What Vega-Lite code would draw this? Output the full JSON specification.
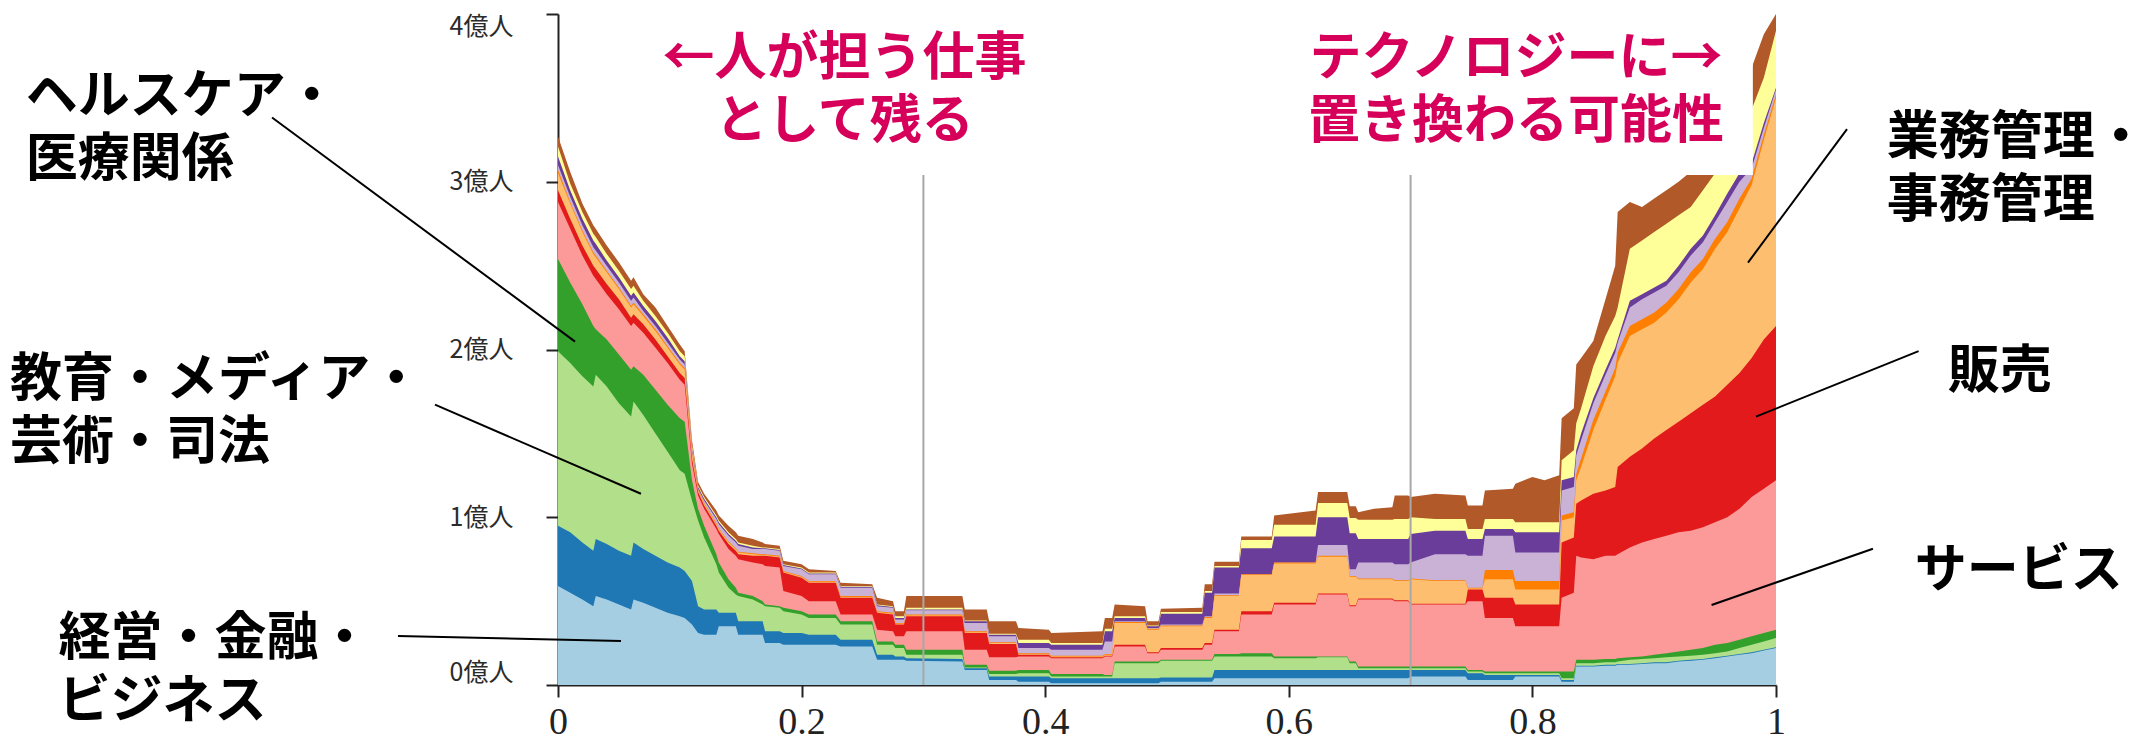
{
"$schema":"https://vega.github.io/schema/vega-lite/v6.json",
"width":1218,"height":671,
"autosize":"none",
"padding":{"left":558,"top":14,"right":379,"bottom":68},
"background":"white",
"config":{"view":{"stroke":null},"axis":{"grid":false,"zindex":1}},
"datasets":{
"emp":[
{"x":0,"a":0.59,"b":0.95,"c":1.99,"d":2.54,"e":2.88,"f":2.95,"g":3.05,"h":3.07,"i":3.10,"j":3.15,"k":3.21,"l":3.27},
{"x":0.01,"a":0.55,"b":0.91,"c":1.92,"d":2.40,"e":2.72,"f":2.78,"g":2.87,"h":2.88,"i":2.91,"j":2.95,"k":2.99,"l":3.06},
{"x":0.02,"a":0.51,"b":0.85,"c":1.84,"d":2.27,"e":2.56,"f":2.62,"g":2.70,"h":2.71,"i":2.74,"j":2.78,"k":2.82,"l":2.87},
{"x":0.029,"a":0.47,"b":0.80,"c":1.78,"d":2.14,"e":2.44,"f":2.50,"g":2.57,"h":2.58,"i":2.61,"j":2.65,"k":2.69,"l":2.74},
{"x":0.031,"a":0.53,"b":0.87,"c":1.85,"d":2.12,"e":2.42,"f":2.48,"g":2.55,"h":2.56,"i":2.59,"j":2.63,"k":2.67,"l":2.72},
{"x":0.04,"a":0.51,"b":0.84,"c":1.78,"d":2.06,"e":2.33,"f":2.39,"g":2.46,"h":2.47,"i":2.50,"j":2.53,"k":2.57,"l":2.62},
{"x":0.05,"a":0.48,"b":0.80,"c":1.68,"d":1.97,"e":2.24,"f":2.30,"g":2.36,"h":2.37,"i":2.40,"j":2.43,"k":2.47,"l":2.52},
{"x":0.06,"a":0.45,"b":0.77,"c":1.60,"d":1.88,"e":2.14,"f":2.19,"g":2.25,"h":2.26,"i":2.29,"j":2.32,"k":2.36,"l":2.41},
{"x":0.062,"a":0.51,"b":0.85,"c":1.69,"d":1.90,"e":2.16,"f":2.21,"g":2.27,"h":2.28,"i":2.31,"j":2.34,"k":2.38,"l":2.43},
{"x":0.07,"a":0.49,"b":0.81,"c":1.61,"d":1.85,"e":2.10,"f":2.15,"g":2.20,"h":2.21,"i":2.23,"j":2.26,"k":2.29,"l":2.33},
{"x":0.08,"a":0.46,"b":0.77,"c":1.50,"d":1.76,"e":2.01,"f":2.06,"g":2.11,"h":2.12,"i":2.14,"j":2.17,"k":2.20,"l":2.25},
{"x":0.09,"a":0.43,"b":0.73,"c":1.39,"d":1.67,"e":1.92,"f":1.96,"g":2.01,"h":2.02,"i":2.04,"j":2.07,"k":2.10,"l":2.14},
{"x":0.10,"a":0.41,"b":0.70,"c":1.28,"d":1.59,"e":1.82,"f":1.86,"g":1.91,"h":1.92,"i":1.94,"j":1.96,"k":1.99,"l":2.03},
{"x":0.104,"a":0.40,"b":0.68,"c":1.26,"d":1.57,"e":1.79,"f":1.83,"g":1.88,"h":1.89,"i":1.91,"j":1.93,"k":1.96,"l":1.99},
{"x":0.11,"a":0.36,"b":0.62,"c":1.10,"d":1.22,"e":1.32,"f":1.35,"g":1.38,"h":1.39,"i":1.40,"j":1.41,"k":1.43,"l":1.46},
{"x":0.115,"a":0.31,"b":0.47,"c":0.98,"d":1.05,"e":1.13,"f":1.15,"g":1.16,"h":1.165,"i":1.17,"j":1.18,"k":1.19,"l":1.21},
{"x":0.12,"a":0.30,"b":0.45,"c":0.88,"d":0.95,"e":1.05,"f":1.07,"g":1.08,"h":1.085,"i":1.10,"j":1.11,"k":1.12,"l":1.14},
{"x":0.13,"a":0.30,"b":0.45,"c":0.72,"d":0.78,"e":0.93,"f":0.95,"g":0.96,"h":0.965,"i":0.99,"j":1.00,"k":1.01,"l":1.04},
{"x":0.132,"a":0.35,"b":0.43,"c":0.67,"d":0.73,"e":0.90,"f":0.92,"g":0.93,"h":0.935,"i":0.96,"j":0.97,"k":0.98,"l":1.01},
{"x":0.14,"a":0.35,"b":0.43,"c":0.58,"d":0.63,"e":0.81,"f":0.84,"g":0.85,"h":0.855,"i":0.89,"j":0.90,"k":0.91,"l":0.95},
{"x":0.146,"a":0.35,"b":0.43,"c":0.54,"d":0.58,"e":0.77,"f":0.80,"g":0.81,"h":0.815,"i":0.85,"j":0.86,"k":0.87,"l":0.91},
{"x":0.148,"a":0.30,"b":0.38,"c":0.53,"d":0.55,"e":0.75,"f":0.78,"g":0.79,"h":0.795,"i":0.83,"j":0.84,"k":0.85,"l":0.89},
{"x":0.16,"a":0.30,"b":0.38,"c":0.51,"d":0.53,"e":0.73,"f":0.77,"g":0.78,"h":0.785,"i":0.81,"j":0.82,"k":0.83,"l":0.87},
{"x":0.168,"a":0.30,"b":0.38,"c":0.48,"d":0.50,"e":0.72,"f":0.77,"g":0.775,"h":0.78,"i":0.81,"j":0.815,"k":0.82,"l":0.85},
{"x":0.17,"a":0.25,"b":0.32,"c":0.47,"d":0.48,"e":0.71,"f":0.77,"g":0.775,"h":0.78,"i":0.81,"j":0.815,"k":0.82,"l":0.84},
{"x":0.182,"a":0.25,"b":0.32,"c":0.46,"d":0.47,"e":0.70,"f":0.76,"g":0.765,"h":0.77,"i":0.80,"j":0.805,"k":0.81,"l":0.83},
{"x":0.185,"a":0.24,"b":0.31,"c":0.44,"d":0.46,"e":0.56,"f":0.67,"g":0.675,"h":0.68,"i":0.71,"j":0.715,"k":0.72,"l":0.74},
{"x":0.20,"a":0.24,"b":0.31,"c":0.42,"d":0.44,"e":0.53,"f":0.64,"g":0.645,"h":0.65,"i":0.69,"j":0.695,"k":0.70,"l":0.72},
{"x":0.206,"a":0.24,"b":0.30,"c":0.40,"d":0.42,"e":0.50,"f":0.61,"g":0.615,"h":0.62,"i":0.66,"j":0.665,"k":0.67,"l":0.69},
{"x":0.228,"a":0.24,"b":0.30,"c":0.40,"d":0.42,"e":0.50,"f":0.61,"g":0.615,"h":0.62,"i":0.66,"j":0.665,"k":0.67,"l":0.68},
{"x":0.232,"a":0.23,"b":0.27,"c":0.36,"d":0.38,"e":0.42,"f":0.52,"g":0.525,"h":0.53,"i":0.58,"j":0.585,"k":0.59,"l":0.61},
{"x":0.258,"a":0.23,"b":0.27,"c":0.36,"d":0.38,"e":0.42,"f":0.52,"g":0.525,"h":0.53,"i":0.58,"j":0.585,"k":0.59,"l":0.60},
{"x":0.262,"a":0.15,"b":0.18,"c":0.24,"d":0.26,"e":0.33,"f":0.43,"g":0.435,"h":0.44,"i":0.47,"j":0.475,"k":0.48,"l":0.52},
{"x":0.275,"a":0.15,"b":0.18,"c":0.24,"d":0.26,"e":0.32,"f":0.42,"g":0.425,"h":0.43,"i":0.46,"j":0.465,"k":0.47,"l":0.50},
{"x":0.277,"a":0.15,"b":0.17,"c":0.22,"d":0.24,"e":0.29,"f":0.36,"g":0.365,"h":0.37,"i":0.39,"j":0.40,"k":0.41,"l":0.44},
{"x":0.284,"a":0.15,"b":0.17,"c":0.22,"d":0.24,"e":0.29,"f":0.36,"g":0.365,"h":0.37,"i":0.39,"j":0.40,"k":0.41,"l":0.44},
{"x":0.286,"a":0.145,"b":0.16,"c":0.18,"d":0.21,"e":0.32,"f":0.41,"g":0.415,"h":0.42,"i":0.445,"j":0.45,"k":0.46,"l":0.53},
{"x":0.332,"a":0.14,"b":0.155,"c":0.18,"d":0.21,"e":0.32,"f":0.41,"g":0.415,"h":0.42,"i":0.445,"j":0.45,"k":0.46,"l":0.53},
{"x":0.334,"a":0.09,"b":0.10,"c":0.105,"d":0.12,"e":0.21,"f":0.31,"g":0.315,"h":0.32,"i":0.37,"j":0.38,"k":0.385,"l":0.45},
{"x":0.352,"a":0.09,"b":0.10,"c":0.105,"d":0.12,"e":0.21,"f":0.31,"g":0.315,"h":0.32,"i":0.37,"j":0.38,"k":0.385,"l":0.45},
{"x":0.354,"a":0.03,"b":0.05,"c":0.065,"d":0.085,"e":0.165,"f":0.245,"g":0.25,"h":0.255,"i":0.29,"j":0.30,"k":0.305,"l":0.38},
{"x":0.376,"a":0.03,"b":0.05,"c":0.065,"d":0.085,"e":0.165,"f":0.245,"g":0.25,"h":0.255,"i":0.29,"j":0.30,"k":0.305,"l":0.38},
{"x":0.378,"a":0.02,"b":0.05,"c":0.07,"d":0.09,"e":0.17,"f":0.18,"g":0.185,"h":0.19,"i":0.22,"j":0.25,"k":0.27,"l":0.34},
{"x":0.403,"a":0.02,"b":0.05,"c":0.07,"d":0.09,"e":0.17,"f":0.18,"g":0.185,"h":0.19,"i":0.22,"j":0.25,"k":0.27,"l":0.33},
{"x":0.405,"a":0.01,"b":0.04,"c":0.05,"d":0.065,"e":0.16,"f":0.165,"g":0.17,"h":0.175,"i":0.21,"j":0.24,"k":0.25,"l":0.31},
{"x":0.447,"a":0.01,"b":0.04,"c":0.05,"d":0.065,"e":0.16,"f":0.165,"g":0.17,"h":0.175,"i":0.21,"j":0.24,"k":0.25,"l":0.32},
{"x":0.449,"a":0.01,"b":0.04,"c":0.05,"d":0.06,"e":0.17,"f":0.175,"g":0.18,"h":0.185,"i":0.26,"j":0.32,"k":0.335,"l":0.40},
{"x":0.455,"a":0.01,"b":0.04,"c":0.05,"d":0.06,"e":0.17,"f":0.175,"g":0.18,"h":0.185,"i":0.26,"j":0.32,"k":0.335,"l":0.40},
{"x":0.457,"a":0.01,"b":0.04,"c":0.13,"d":0.14,"e":0.23,"f":0.24,"g":0.37,"h":0.375,"i":0.38,"j":0.40,"k":0.41,"l":0.48},
{"x":0.482,"a":0.01,"b":0.04,"c":0.13,"d":0.14,"e":0.23,"f":0.24,"g":0.37,"h":0.375,"i":0.38,"j":0.40,"k":0.41,"l":0.47},
{"x":0.484,"a":0.01,"b":0.04,"c":0.13,"d":0.14,"e":0.19,"f":0.195,"g":0.33,"h":0.335,"i":0.34,"j":0.35,"k":0.355,"l":0.38},
{"x":0.493,"a":0.01,"b":0.04,"c":0.13,"d":0.14,"e":0.19,"f":0.195,"g":0.33,"h":0.335,"i":0.34,"j":0.35,"k":0.355,"l":0.38},
{"x":0.495,"a":0.02,"b":0.045,"c":0.145,"d":0.15,"e":0.21,"f":0.22,"g":0.35,"h":0.355,"i":0.36,"j":0.425,"k":0.435,"l":0.455},
{"x":0.529,"a":0.02,"b":0.045,"c":0.145,"d":0.15,"e":0.21,"f":0.22,"g":0.35,"h":0.355,"i":0.36,"j":0.425,"k":0.435,"l":0.46},
{"x":0.531,"a":0.02,"b":0.045,"c":0.145,"d":0.15,"e":0.24,"f":0.25,"g":0.40,"h":0.405,"i":0.41,"j":0.55,"k":0.56,"l":0.60},
{"x":0.537,"a":0.02,"b":0.045,"c":0.145,"d":0.15,"e":0.24,"f":0.25,"g":0.40,"h":0.405,"i":0.41,"j":0.55,"k":0.56,"l":0.60},
{"x":0.539,"a":0.04,"b":0.09,"c":0.17,"d":0.185,"e":0.32,"f":0.33,"g":0.53,"h":0.535,"i":0.545,"j":0.70,"k":0.71,"l":0.735},
{"x":0.559,"a":0.04,"b":0.09,"c":0.17,"d":0.185,"e":0.32,"f":0.33,"g":0.53,"h":0.535,"i":0.545,"j":0.70,"k":0.71,"l":0.735},
{"x":0.561,"a":0.04,"b":0.09,"c":0.17,"d":0.19,"e":0.42,"f":0.44,"g":0.655,"h":0.66,"i":0.66,"j":0.815,"k":0.865,"l":0.885},
{"x":0.586,"a":0.04,"b":0.09,"c":0.17,"d":0.19,"e":0.42,"f":0.44,"g":0.655,"h":0.66,"i":0.66,"j":0.815,"k":0.865,"l":0.885},
{"x":0.588,"a":0.04,"b":0.09,"c":0.16,"d":0.17,"e":0.48,"f":0.49,"g":0.725,"h":0.73,"i":0.73,"j":0.885,"k":0.955,"l":1.01},
{"x":0.622,"a":0.04,"b":0.09,"c":0.16,"d":0.17,"e":0.48,"f":0.49,"g":0.725,"h":0.73,"i":0.73,"j":0.885,"k":0.955,"l":1.04},
{"x":0.624,"a":0.04,"b":0.09,"c":0.165,"d":0.17,"e":0.54,"f":0.545,"g":0.765,"h":0.77,"i":0.835,"j":1.00,"k":1.085,"l":1.15},
{"x":0.648,"a":0.04,"b":0.09,"c":0.165,"d":0.17,"e":0.54,"f":0.545,"g":0.765,"h":0.77,"i":0.835,"j":1.00,"k":1.085,"l":1.15},
{"x":0.650,"a":0.04,"b":0.09,"c":0.13,"d":0.14,"e":0.47,"f":0.475,"g":0.645,"h":0.65,"i":0.69,"j":0.905,"k":0.995,"l":1.065},
{"x":0.655,"a":0.04,"b":0.09,"c":0.13,"d":0.14,"e":0.47,"f":0.475,"g":0.645,"h":0.65,"i":0.69,"j":0.905,"k":0.995,"l":1.065},
{"x":0.657,"a":0.04,"b":0.09,"c":0.10,"d":0.11,"e":0.51,"f":0.515,"g":0.63,"h":0.635,"i":0.73,"j":0.87,"k":0.985,"l":1.03},
{"x":0.67,"a":0.04,"b":0.09,"c":0.10,"d":0.11,"e":0.51,"f":0.515,"g":0.63,"h":0.635,"i":0.73,"j":0.87,"k":0.985,"l":1.05},
{"x":0.685,"a":0.04,"b":0.09,"c":0.10,"d":0.11,"e":0.51,"f":0.515,"g":0.63,"h":0.635,"i":0.73,"j":0.87,"k":0.985,"l":1.06},
{"x":0.687,"a":0.04,"b":0.09,"c":0.10,"d":0.11,"e":0.50,"f":0.505,"g":0.62,"h":0.625,"i":0.72,"j":0.87,"k":0.99,"l":1.13},
{"x":0.698,"a":0.04,"b":0.09,"c":0.10,"d":0.11,"e":0.50,"f":0.505,"g":0.62,"h":0.625,"i":0.72,"j":0.87,"k":0.99,"l":1.13},
{"x":0.70,"a":0.05,"b":0.09,"c":0.10,"d":0.11,"e":0.48,"f":0.485,"g":0.63,"h":0.635,"i":0.73,"j":0.90,"k":1.0,"l":1.12},
{"x":0.72,"a":0.05,"b":0.09,"c":0.10,"d":0.11,"e":0.48,"f":0.485,"g":0.62,"h":0.625,"i":0.78,"j":0.92,"k":0.99,"l":1.14},
{"x":0.745,"a":0.05,"b":0.09,"c":0.10,"d":0.11,"e":0.48,"f":0.485,"g":0.62,"h":0.625,"i":0.78,"j":0.92,"k":0.99,"l":1.13},
{"x":0.747,"a":0.03,"b":0.07,"c":0.08,"d":0.09,"e":0.50,"f":0.57,"g":0.575,"h":0.58,"i":0.77,"j":0.87,"k":0.93,"l":1.07},
{"x":0.759,"a":0.03,"b":0.07,"c":0.08,"d":0.09,"e":0.50,"f":0.57,"g":0.575,"h":0.58,"i":0.77,"j":0.87,"k":0.93,"l":1.07},
{"x":0.761,"a":0.03,"b":0.06,"c":0.07,"d":0.08,"e":0.40,"f":0.52,"g":0.63,"h":0.685,"i":0.89,"j":0.93,"k":0.99,"l":1.16},
{"x":0.784,"a":0.03,"b":0.06,"c":0.07,"d":0.08,"e":0.40,"f":0.52,"g":0.63,"h":0.685,"i":0.89,"j":0.93,"k":0.99,"l":1.17},
{"x":0.786,"a":0.05,"b":0.06,"c":0.07,"d":0.08,"e":0.35,"f":0.48,"g":0.57,"h":0.62,"i":0.79,"j":0.91,"k":0.97,"l":1.20},
{"x":0.80,"a":0.05,"b":0.06,"c":0.07,"d":0.08,"e":0.35,"f":0.48,"g":0.57,"h":0.62,"i":0.79,"j":0.91,"k":0.97,"l":1.24},
{"x":0.81,"a":0.05,"b":0.06,"c":0.07,"d":0.08,"e":0.35,"f":0.48,"g":0.57,"h":0.62,"i":0.79,"j":0.91,"k":0.97,"l":1.22},
{"x":0.822,"a":0.05,"b":0.06,"c":0.07,"d":0.08,"e":0.35,"f":0.48,"g":0.57,"h":0.62,"i":0.79,"j":0.91,"k":0.97,"l":1.25},
{"x":0.824,"a":0.02,"b":0.03,"c":0.04,"d":0.08,"e":0.52,"f":0.85,"g":0.98,"h":1.01,"i":1.16,"j":1.22,"k":1.34,"l":1.59},
{"x":0.834,"a":0.02,"b":0.03,"c":0.04,"d":0.08,"e":0.55,"f":0.88,"g":1.00,"h":1.03,"i":1.18,"j":1.24,"k":1.40,"l":1.65},
{"x":0.836,"a":0.11,"b":0.115,"c":0.13,"d":0.15,"e":0.77,"f":1.08,"g":1.22,"h":1.26,"i":1.37,"j":1.40,"k":1.56,"l":1.91},
{"x":0.84,"a":0.11,"b":0.115,"c":0.13,"d":0.15,"e":0.76,"f":1.10,"g":1.30,"h":1.35,"i":1.46,"j":1.50,"k":1.65,"l":1.95},
{"x":0.85,"a":0.11,"b":0.115,"c":0.13,"d":0.15,"e":0.75,"f":1.14,"g":1.52,"h":1.58,"i":1.68,"j":1.71,"k":1.90,"l":2.05},
{"x":0.86,"a":0.115,"b":0.12,"c":0.135,"d":0.155,"e":0.77,"f":1.16,"g":1.70,"h":1.75,"i":1.85,"j":1.88,"k":2.08,"l":2.30},
{"x":0.868,"a":0.115,"b":0.12,"c":0.135,"d":0.155,"e":0.77,"f":1.18,"g":1.84,"h":1.89,"i":1.98,"j":2.01,"k":2.20,"l":2.50},
{"x":0.87,"a":0.12,"b":0.125,"c":0.14,"d":0.16,"e":0.78,"f":1.30,"g":1.92,"h":1.98,"i":2.04,"j":2.06,"k":2.25,"l":2.82},
{"x":0.88,"a":0.12,"b":0.125,"c":0.15,"d":0.165,"e":0.82,"f":1.36,"g":2.08,"h":2.14,"i":2.25,"j":2.29,"k":2.60,"l":2.88},
{"x":0.89,"a":0.125,"b":0.13,"c":0.155,"d":0.17,"e":0.85,"f":1.41,"g":2.12,"h":2.18,"i":2.30,"j":2.33,"k":2.65,"l":2.85},
{"x":0.90,"a":0.13,"b":0.135,"c":0.16,"d":0.18,"e":0.87,"f":1.47,"g":2.16,"h":2.22,"i":2.34,"j":2.37,"k":2.70,"l":2.90},
{"x":0.91,"a":0.13,"b":0.135,"c":0.165,"d":0.19,"e":0.89,"f":1.52,"g":2.22,"h":2.28,"i":2.38,"j":2.41,"k":2.75,"l":2.95},
{"x":0.92,"a":0.14,"b":0.145,"c":0.17,"d":0.20,"e":0.91,"f":1.57,"g":2.30,"h":2.36,"i":2.46,"j":2.50,"k":2.80,"l":3.00},
{"x":0.93,"a":0.145,"b":0.15,"c":0.175,"d":0.21,"e":0.92,"f":1.62,"g":2.40,"h":2.46,"i":2.56,"j":2.60,"k":2.85,"l":3.06},
{"x":0.94,"a":0.15,"b":0.155,"c":0.18,"d":0.22,"e":0.94,"f":1.67,"g":2.48,"h":2.54,"i":2.64,"j":2.68,"k":2.95,"l":3.15},
{"x":0.95,"a":0.16,"b":0.165,"c":0.19,"d":0.24,"e":0.97,"f":1.72,"g":2.60,"h":2.66,"i":2.76,"j":2.80,"k":3.05,"l":3.28},
{"x":0.96,"a":0.17,"b":0.175,"c":0.20,"d":0.25,"e":1.00,"f":1.79,"g":2.70,"h":2.76,"i":2.88,"j":2.93,"k":3.15,"l":3.40},
{"x":0.97,"a":0.18,"b":0.185,"c":0.22,"d":0.27,"e":1.05,"f":1.86,"g":2.84,"h":2.90,"i":3.00,"j":3.05,"k":3.30,"l":3.55},
{"x":0.98,"a":0.19,"b":0.195,"c":0.24,"d":0.29,"e":1.12,"f":1.95,"g":2.98,"h":3.02,"i":3.08,"j":3.11,"k":3.43,"l":3.68},
{"x":0.99,"a":0.205,"b":0.21,"c":0.26,"d":0.31,"e":1.17,"f":2.06,"g":3.25,"h":3.28,"i":3.32,"j":3.35,"k":3.62,"l":3.88},
{"x":1.0,"a":0.22,"b":0.225,"c":0.28,"d":0.33,"e":1.22,"f":2.14,"g":3.50,"h":3.52,"i":3.55,"j":3.56,"k":3.90,"l":4.00}
],
"mask":[{"x1":0.08,"x2":0.981,"y1":3.04,"y2":4.1}],
"vlines":[{"x":0.3,"y1":0,"y2":3.04},{"x":0.7,"y1":0,"y2":3.04}],
"leaders":[
{"x1":-0.2348,"y1":3.383,"x2":0.014,"y2":2.047},
{"x1":-0.101,"y1":1.671,"x2":0.0681,"y2":1.140},
{"x1":-0.1314,"y1":0.2924,"x2":0.0517,"y2":0.2625},
{"x1":1.0583,"y1":3.314,"x2":0.977,"y2":2.518},
{"x1":1.1171,"y1":1.990,"x2":0.9836,"y2":1.600},
{"x1":1.0796,"y1":0.812,"x2":0.9471,"y2":0.477}
],
"notesBlack":[
{"t":["ヘルスケア・","医療関係"],"x":-0.437,"y":3.652},
{"t":["教育・メディア・","芸術・司法"],"x":-0.450,"y":1.969},
{"t":["経営・金融・","ビジネス"],"x":-0.410,"y":0.4236},
{"t":["業務管理・","事務管理"],"x":1.091,"y":3.407},
{"t":["販売"],"x":1.141,"y":2.017},
{"t":["サービス"],"x":1.114,"y":0.829}
],
"notesPink":[
{"t":["←人が担う仕事","として残る"],"x":0.2352,"y":3.878},
{"t":["テクノロジーに→","置き換わる可能性"],"x":0.7865,"y":3.878}
]
},
"data":{"name":"emp"},
"encoding":{"x":{"field":"x","type":"quantitative","title":null,"scale":{"domain":[0,1],"nice":false,"zero":false},
"axis":{"values":[0,0.2,0.4,0.6,0.8,1],"format":"~g","labelFont":"Liberation Serif","labelFontSize":38,"labelColor":"#222222","labelPadding":6,"labelFlush":false,"labelOverlap":false,"tickSize":12,"tickWidth":2,"tickColor":"#222222","domainColor":"#222222","domainWidth":2,"grid":false,"title":null}}},
"layer":[
{"mark":{"type":"area","color":"#b15928"},"encoding":{"y":{"field":"l","type":"quantitative","title":null,"scale":{"domain":[0,4],"nice":false},
"axis":{"values":[0,1,2,3,4],"labelExpr":"datum.value + '億人'","labelFont":"Noto Sans CJK JP","labelFontSize":25,"labelColor":"#2b2b2b","labelPadding":33,"labelFlush":true,"labelOverlap":false,"tickSize":12,"tickWidth":2,"tickColor":"#222222","domainColor":"#222222","domainWidth":2,"grid":false,"title":null}}}},
{"mark":{"type":"area","color":"#ffff99"},"encoding":{"y":{"field":"k","type":"quantitative","title":null,"scale":{"domain":[0,4],"nice":false}}}},
{"mark":{"type":"area","color":"#6a3d9a"},"encoding":{"y":{"field":"j","type":"quantitative","title":null,"scale":{"domain":[0,4],"nice":false}}}},
{"mark":{"type":"area","color":"#cab2d6"},"encoding":{"y":{"field":"i","type":"quantitative","title":null,"scale":{"domain":[0,4],"nice":false}}}},
{"mark":{"type":"area","color":"#ff7f00"},"encoding":{"y":{"field":"h","type":"quantitative","title":null,"scale":{"domain":[0,4],"nice":false}}}},
{"mark":{"type":"area","color":"#fdbf6f"},"encoding":{"y":{"field":"g","type":"quantitative","title":null,"scale":{"domain":[0,4],"nice":false}}}},
{"mark":{"type":"area","color":"#e31a1c"},"encoding":{"y":{"field":"f","type":"quantitative","title":null,"scale":{"domain":[0,4],"nice":false}}}},
{"mark":{"type":"area","color":"#fb9a99"},"encoding":{"y":{"field":"e","type":"quantitative","title":null,"scale":{"domain":[0,4],"nice":false}}}},
{"mark":{"type":"area","color":"#33a02c"},"encoding":{"y":{"field":"d","type":"quantitative","title":null,"scale":{"domain":[0,4],"nice":false}}}},
{"mark":{"type":"area","color":"#b2df8a"},"encoding":{"y":{"field":"c","type":"quantitative","title":null,"scale":{"domain":[0,4],"nice":false}}}},
{"mark":{"type":"area","color":"#1f78b4"},"encoding":{"y":{"field":"b","type":"quantitative","title":null,"scale":{"domain":[0,4],"nice":false}}}},
{"mark":{"type":"area","color":"#a6cee3"},"encoding":{"y":{"field":"a","type":"quantitative","title":null,"scale":{"domain":[0,4],"nice":false}}}},
{"data":{"name":"mask"},"mark":{"type":"rect","color":"white"},"encoding":{
"x":{"field":"x1","type":"quantitative","title":null,"scale":{"domain":[0,1],"nice":false,"zero":false}},"x2":{"field":"x2"},
"y":{"field":"y1","type":"quantitative","title":null,"scale":{"domain":[0,4],"nice":false}},"y2":{"field":"y2"}}},
{"data":{"name":"vlines"},"mark":{"type":"rule","color":"#a8a8a8","strokeWidth":2},"encoding":{
"x":{"field":"x","type":"quantitative","title":null,"scale":{"domain":[0,1],"nice":false,"zero":false}},
"y":{"field":"y1","type":"quantitative","title":null,"scale":{"domain":[0,4],"nice":false}},"y2":{"field":"y2"}}},
{"data":{"name":"leaders"},"mark":{"type":"rule","color":"#000000","strokeWidth":2},"encoding":{
"x":{"field":"x1","type":"quantitative","title":null,"scale":{"domain":[0,1],"nice":false,"zero":false}},"x2":{"field":"x2"},
"y":{"field":"y1","type":"quantitative","title":null,"scale":{"domain":[0,4],"nice":false}},"y2":{"field":"y2"}}},
{"data":{"name":"notesBlack"},"mark":{"type":"text","align":"left","baseline":"top","lineHeight":63,"font":"Noto Sans CJK JP","fontWeight":"bold","fontSize":52,"color":"#000000"},"encoding":{
"x":{"field":"x","type":"quantitative","title":null,"scale":{"domain":[0,1],"nice":false,"zero":false}},
"y":{"field":"y","type":"quantitative","title":null,"scale":{"domain":[0,4],"nice":false}},
"text":{"field":"t"}}},
{"data":{"name":"notesPink"},"mark":{"type":"text","align":"center","baseline":"top","lineHeight":63,"font":"Noto Sans CJK JP","fontWeight":"bold","fontSize":52,"color":"#d6005a"},"encoding":{
"x":{"field":"x","type":"quantitative","title":null,"scale":{"domain":[0,1],"nice":false,"zero":false}},
"y":{"field":"y","type":"quantitative","title":null,"scale":{"domain":[0,4],"nice":false}},
"text":{"field":"t"}}}
]
}
